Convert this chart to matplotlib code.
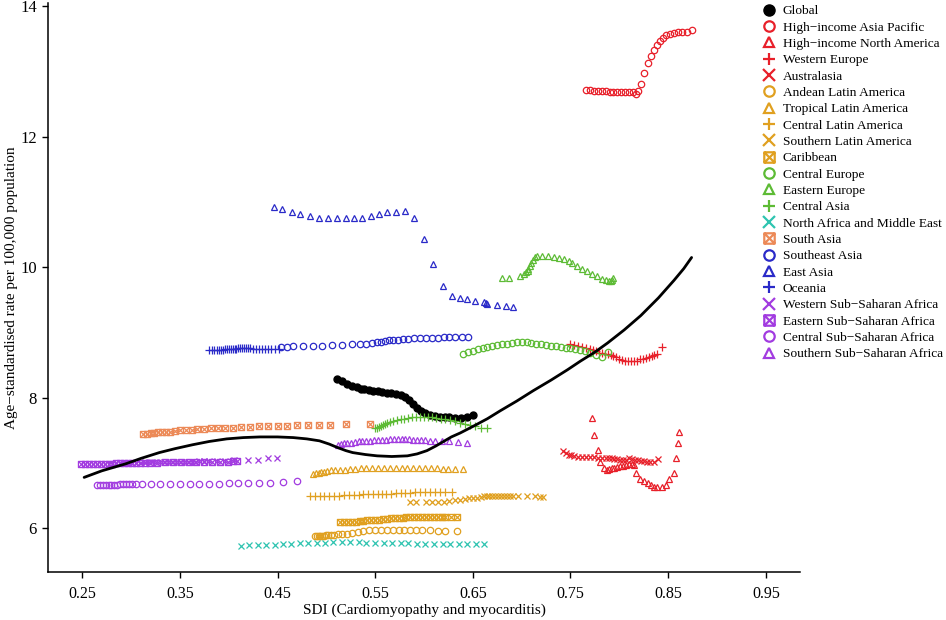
import matplotlib
matplotlib.use("Agg")
import matplotlib.pyplot as plt
from matplotlib.path import Path
from matplotlib.lines import Line2D

plt.rcParams['font.family'] = ['Liberation Serif', 'DejaVu Serif']

# ---------------- data ----------------
global_sdi = [0.511,0.516,0.521,0.526,0.531,0.535,0.539,0.544,0.548,0.553,0.557,0.562,0.566,0.571,0.576,0.581,0.585,0.589,0.593,0.597,0.601,0.606,0.611,0.616,0.621,0.626,0.632,0.638,0.644,0.650]
global_rate = [8.29,8.25,8.21,8.18,8.16,8.14,8.13,8.12,8.11,8.10,8.09,8.08,8.07,8.06,8.04,8.01,7.97,7.91,7.85,7.80,7.77,7.74,7.72,7.71,7.70,7.70,7.69,7.69,7.71,7.74]

hiap_sdi = [0.766,0.770,0.774,0.778,0.782,0.786,0.790,0.794,0.798,0.802,0.806,0.810,0.814,0.817,0.819,0.822,0.825,0.829,0.832,0.836,0.839,0.842,0.845,0.848,0.852,0.856,0.860,0.864,0.869,0.874]
hiap_rate = [12.71,12.71,12.70,12.70,12.70,12.70,12.69,12.69,12.69,12.69,12.68,12.68,12.69,12.66,12.70,12.81,12.98,13.13,13.24,13.33,13.41,13.47,13.52,13.56,13.58,13.59,13.60,13.60,13.61,13.63]

hina_sdi = [0.772,0.774,0.778,0.780,0.784,0.787,0.789,0.792,0.795,0.798,0.801,0.804,0.807,0.810,0.813,0.815,0.817,0.821,0.825,0.829,0.832,0.835,0.839,0.844,0.848,0.851,0.856,0.858,0.860,0.861]
hina_rate = [7.69,7.43,7.20,7.02,6.92,6.90,6.91,6.92,6.93,6.94,6.95,6.96,6.97,6.98,6.99,6.97,6.85,6.76,6.72,6.69,6.66,6.64,6.63,6.64,6.66,6.75,6.85,7.08,7.30,7.47]

we_sdi = [0.750,0.754,0.758,0.762,0.766,0.770,0.773,0.776,0.779,0.782,0.785,0.788,0.791,0.794,0.797,0.800,0.803,0.806,0.809,0.812,0.815,0.818,0.821,0.824,0.827,0.830,0.833,0.836,0.839,0.844]
we_rate = [8.82,8.81,8.80,8.78,8.76,8.75,8.73,8.71,8.69,8.68,8.67,8.67,8.66,8.64,8.62,8.60,8.58,8.57,8.56,8.56,8.56,8.57,8.59,8.60,8.61,8.63,8.64,8.65,8.67,8.78]

aus_sdi = [0.742,0.745,0.748,0.751,0.754,0.758,0.762,0.766,0.770,0.774,0.778,0.782,0.786,0.789,0.792,0.795,0.798,0.801,0.804,0.807,0.810,0.813,0.816,0.819,0.822,0.825,0.828,0.831,0.835,0.840]
aus_rate = [7.18,7.15,7.13,7.12,7.11,7.10,7.10,7.09,7.09,7.09,7.08,7.08,7.08,7.07,7.07,7.06,7.06,7.05,7.05,7.05,7.07,7.06,7.04,7.04,7.03,7.03,7.02,7.02,7.02,7.06]

andean_sdi = [0.488,0.490,0.492,0.494,0.496,0.498,0.500,0.502,0.505,0.508,0.512,0.516,0.521,0.526,0.532,0.538,0.544,0.550,0.556,0.562,0.568,0.574,0.580,0.586,0.592,0.598,0.606,0.614,0.622,0.634]
andean_rate = [5.88,5.88,5.88,5.88,5.88,5.88,5.89,5.89,5.89,5.90,5.91,5.91,5.92,5.93,5.95,5.96,5.97,5.97,5.97,5.97,5.97,5.97,5.97,5.97,5.97,5.97,5.97,5.96,5.96,5.96]

tropical_sdi = [0.486,0.489,0.492,0.495,0.498,0.501,0.505,0.509,0.514,0.519,0.524,0.529,0.535,0.541,0.547,0.553,0.559,0.565,0.571,0.577,0.583,0.589,0.595,0.601,0.607,0.613,0.619,0.625,0.632,0.640]
tropical_rate = [6.83,6.84,6.85,6.86,6.87,6.88,6.89,6.89,6.90,6.90,6.91,6.91,6.92,6.92,6.92,6.92,6.92,6.92,6.92,6.92,6.92,6.92,6.92,6.92,6.92,6.92,6.91,6.91,6.91,6.91]

clat_sdi = [0.483,0.488,0.493,0.498,0.503,0.508,0.513,0.518,0.523,0.528,0.533,0.538,0.543,0.548,0.553,0.557,0.561,0.566,0.571,0.576,0.581,0.586,0.591,0.596,0.601,0.606,0.611,0.616,0.622,0.629]
clat_rate = [6.49,6.49,6.49,6.50,6.50,6.50,6.50,6.51,6.51,6.51,6.51,6.52,6.52,6.52,6.53,6.53,6.53,6.53,6.54,6.54,6.54,6.54,6.55,6.55,6.55,6.55,6.55,6.55,6.55,6.55]

slat_sdi = [0.586,0.592,0.602,0.608,0.614,0.620,0.626,0.632,0.637,0.642,0.646,0.650,0.654,0.658,0.661,0.664,0.667,0.670,0.673,0.676,0.679,0.682,0.685,0.688,0.691,0.696,0.705,0.714,0.719,0.722]
slat_rate = [6.40,6.40,6.40,6.40,6.41,6.41,6.42,6.43,6.44,6.45,6.46,6.47,6.47,6.48,6.49,6.49,6.50,6.50,6.50,6.50,6.50,6.50,6.50,6.49,6.49,6.49,6.49,6.49,6.48,6.48]

carib_sdi = [0.514,0.518,0.522,0.526,0.530,0.534,0.538,0.542,0.546,0.550,0.554,0.558,0.562,0.566,0.570,0.574,0.578,0.582,0.586,0.590,0.594,0.598,0.602,0.606,0.610,0.614,0.618,0.622,0.628,0.634]
carib_rate = [6.10,6.10,6.10,6.10,6.10,6.11,6.11,6.12,6.12,6.13,6.13,6.14,6.14,6.15,6.15,6.16,6.16,6.17,6.17,6.17,6.17,6.17,6.17,6.17,6.17,6.17,6.17,6.17,6.17,6.17]

ceu_sdi = [0.640,0.645,0.650,0.655,0.660,0.665,0.670,0.675,0.680,0.685,0.690,0.695,0.700,0.705,0.710,0.715,0.720,0.725,0.730,0.735,0.740,0.745,0.750,0.755,0.760,0.765,0.770,0.776,0.782,0.788]
ceu_rate = [8.67,8.70,8.72,8.74,8.76,8.78,8.80,8.81,8.82,8.83,8.84,8.85,8.85,8.85,8.84,8.83,8.82,8.81,8.80,8.79,8.78,8.77,8.76,8.75,8.73,8.71,8.68,8.65,8.63,8.70]

eeu_sdi = [0.680,0.687,0.698,0.702,0.704,0.706,0.707,0.709,0.710,0.712,0.714,0.716,0.721,0.727,0.733,0.738,0.743,0.748,0.752,0.757,0.762,0.767,0.772,0.777,0.782,0.786,0.789,0.791,0.793,0.794]
eeu_rate = [9.83,9.83,9.86,9.89,9.92,9.95,9.98,10.02,10.06,10.11,10.15,10.17,10.18,10.18,10.16,10.14,10.12,10.09,10.06,10.02,9.98,9.94,9.90,9.86,9.82,9.80,9.79,9.79,9.80,9.83]

cas_sdi = [0.550,0.552,0.554,0.556,0.558,0.560,0.562,0.565,0.568,0.572,0.576,0.580,0.584,0.588,0.592,0.596,0.600,0.604,0.608,0.612,0.617,0.622,0.627,0.632,0.637,0.642,0.647,0.652,0.658,0.665]
cas_rate = [7.53,7.53,7.55,7.57,7.58,7.60,7.61,7.63,7.65,7.66,7.67,7.68,7.69,7.70,7.70,7.71,7.71,7.70,7.70,7.69,7.68,7.67,7.66,7.64,7.62,7.60,7.58,7.56,7.54,7.53]

name_sdi = [0.413,0.421,0.430,0.438,0.447,0.456,0.464,0.473,0.481,0.490,0.499,0.507,0.516,0.524,0.533,0.541,0.550,0.559,0.567,0.576,0.584,0.593,0.601,0.610,0.619,0.627,0.636,0.644,0.653,0.661]
name_rate = [5.73,5.74,5.74,5.75,5.75,5.76,5.76,5.77,5.77,5.78,5.78,5.79,5.79,5.79,5.79,5.78,5.78,5.78,5.77,5.77,5.77,5.76,5.76,5.76,5.76,5.76,5.76,5.76,5.76,5.76]

sas_sdi = [0.312,0.316,0.320,0.324,0.328,0.332,0.336,0.340,0.345,0.350,0.356,0.362,0.368,0.375,0.382,0.389,0.396,0.404,0.413,0.422,0.431,0.440,0.450,0.460,0.470,0.481,0.492,0.504,0.520,0.545]
sas_rate = [7.45,7.45,7.46,7.46,7.47,7.47,7.48,7.48,7.49,7.50,7.50,7.51,7.52,7.52,7.53,7.53,7.54,7.54,7.55,7.55,7.56,7.56,7.57,7.57,7.58,7.58,7.59,7.59,7.60,7.60]

sea_sdi = [0.454,0.460,0.466,0.476,0.486,0.496,0.506,0.516,0.526,0.534,0.541,0.547,0.552,0.556,0.560,0.564,0.568,0.573,0.578,0.584,0.590,0.596,0.602,0.608,0.614,0.620,0.626,0.632,0.639,0.645]
sea_rate = [8.78,8.78,8.79,8.79,8.80,8.80,8.81,8.81,8.82,8.82,8.83,8.84,8.85,8.86,8.87,8.88,8.89,8.89,8.90,8.90,8.91,8.91,8.92,8.92,8.92,8.93,8.93,8.93,8.93,8.93]

eas_sdi = [0.446,0.455,0.465,0.473,0.483,0.492,0.502,0.511,0.520,0.528,0.537,0.546,0.554,0.562,0.571,0.581,0.590,0.600,0.609,0.619,0.629,0.637,0.644,0.652,0.661,0.663,0.665,0.675,0.684,0.691]
eas_rate = [10.92,10.89,10.84,10.81,10.78,10.76,10.75,10.75,10.75,10.75,10.76,10.78,10.81,10.84,10.85,10.87,10.75,10.43,10.05,9.71,9.56,9.53,9.51,9.48,9.47,9.45,9.44,9.42,9.40,9.39]

oce_sdi = [0.380,0.383,0.385,0.388,0.390,0.392,0.394,0.396,0.398,0.400,0.402,0.404,0.406,0.408,0.410,0.412,0.414,0.416,0.418,0.420,0.422,0.425,0.428,0.431,0.434,0.437,0.440,0.443,0.447,0.452]
oce_rate = [8.73,8.73,8.73,8.73,8.73,8.73,8.73,8.74,8.74,8.74,8.74,8.75,8.75,8.75,8.76,8.76,8.76,8.76,8.76,8.76,8.76,8.75,8.75,8.75,8.75,8.74,8.74,8.74,8.74,8.75]

wssa_sdi = [0.285,0.290,0.295,0.300,0.305,0.310,0.314,0.318,0.322,0.326,0.330,0.334,0.338,0.342,0.346,0.350,0.354,0.358,0.362,0.366,0.370,0.375,0.380,0.388,0.396,0.405,0.420,0.430,0.440,0.449]
wssa_rate = [7.00,7.00,7.00,7.00,7.00,7.00,7.01,7.01,7.01,7.01,7.01,7.01,7.01,7.01,7.02,7.02,7.02,7.02,7.02,7.02,7.03,7.03,7.03,7.03,7.03,7.04,7.05,7.05,7.07,7.08]

essa_sdi = [0.249,0.253,0.257,0.261,0.265,0.269,0.273,0.277,0.281,0.285,0.289,0.293,0.297,0.301,0.305,0.309,0.314,0.319,0.327,0.335,0.343,0.351,0.359,0.367,0.375,0.383,0.391,0.399,0.404,0.409]
essa_rate = [6.99,6.99,6.99,6.99,6.99,6.99,6.99,6.99,6.99,7.00,7.00,7.00,7.00,7.00,7.00,7.00,7.00,7.00,7.00,7.01,7.01,7.01,7.01,7.01,7.02,7.02,7.02,7.02,7.03,7.03]

cssa_sdi = [0.265,0.268,0.271,0.274,0.277,0.280,0.283,0.286,0.289,0.292,0.295,0.298,0.301,0.305,0.311,0.320,0.330,0.340,0.350,0.360,0.370,0.380,0.390,0.400,0.410,0.420,0.431,0.442,0.456,0.470]
cssa_rate = [6.67,6.67,6.67,6.67,6.67,6.67,6.67,6.67,6.68,6.68,6.68,6.68,6.68,6.68,6.68,6.68,6.68,6.68,6.68,6.68,6.68,6.68,6.68,6.69,6.69,6.69,6.70,6.70,6.71,6.73]

sssa_sdi = [0.512,0.515,0.518,0.521,0.525,0.529,0.533,0.537,0.541,0.545,0.549,0.553,0.557,0.561,0.565,0.569,0.573,0.577,0.581,0.585,0.589,0.593,0.597,0.601,0.606,0.611,0.618,0.626,0.635,0.644]
sssa_rate = [7.28,7.29,7.30,7.31,7.31,7.32,7.33,7.33,7.34,7.34,7.35,7.35,7.36,7.36,7.37,7.37,7.37,7.37,7.37,7.37,7.36,7.36,7.35,7.35,7.34,7.34,7.33,7.33,7.32,7.31]

curve_sdi = [0.252,0.270,0.295,0.310,0.329,0.345,0.363,0.380,0.398,0.415,0.432,0.450,0.466,0.480,0.493,0.503,0.511,0.520,0.527,0.540,0.552,0.567,0.583,0.593,0.603,0.612,0.620,0.628,0.637,0.650,0.665,0.678,0.695,0.712,0.730,0.747,0.760,0.775,0.788,0.805,0.822,0.840,0.856,0.866,0.874]
curve_rate = [6.78,6.88,6.99,7.07,7.16,7.22,7.28,7.33,7.37,7.39,7.40,7.40,7.39,7.37,7.34,7.29,7.24,7.19,7.16,7.13,7.11,7.10,7.11,7.14,7.19,7.26,7.33,7.40,7.46,7.56,7.68,7.80,7.95,8.11,8.27,8.43,8.56,8.70,8.84,9.04,9.26,9.53,9.80,9.98,10.15]

x_ticks = [0.25, 0.35, 0.45, 0.55, 0.65, 0.75, 0.85, 0.95]
x_tick_labels = ["0.25", "0.35", "0.45", "0.55", "0.65", "0.75", "0.85", "0.95"]
y_ticks = [6, 8, 10, 12, 14]

# ---------------- styles ----------------
RED = "#E8202A"
ORANGE = "#E0A020"
GREEN = "#5DBB35"
TEAL = "#2EC4B0"
SALMON = "#EC8A58"
BLUE = "#2A2AC8"
PURPLE = "#A23CE0"

boxx = Path([(-1, -1), (1, -1), (1, 1), (-1, 1), (-1, -1), (-1, -1), (1, 1), (-1, 1), (1, -1)],
            [Path.MOVETO, Path.LINETO, Path.LINETO, Path.LINETO, Path.CLOSEPOLY,
             Path.MOVETO, Path.LINETO, Path.MOVETO, Path.LINETO])

series = [
    ("Global", global_sdi, global_rate, "black", "o", True),
    ("High\u2212income Asia Pacific", hiap_sdi, hiap_rate, RED, "o", False),
    ("High\u2212income North America", hina_sdi, hina_rate, RED, "^", False),
    ("Western Europe", we_sdi, we_rate, RED, "+", False),
    ("Australasia", aus_sdi, aus_rate, RED, "x", False),
    ("Andean Latin America", andean_sdi, andean_rate, ORANGE, "o", False),
    ("Tropical Latin America", tropical_sdi, tropical_rate, ORANGE, "^", False),
    ("Central Latin America", clat_sdi, clat_rate, ORANGE, "+", False),
    ("Southern Latin America", slat_sdi, slat_rate, ORANGE, "x", False),
    ("Caribbean", carib_sdi, carib_rate, ORANGE, boxx, False),
    ("Central Europe", ceu_sdi, ceu_rate, GREEN, "o", False),
    ("Eastern Europe", eeu_sdi, eeu_rate, GREEN, "^", False),
    ("Central Asia", cas_sdi, cas_rate, GREEN, "+", False),
    ("North Africa and Middle East", name_sdi, name_rate, TEAL, "x", False),
    ("South Asia", sas_sdi, sas_rate, SALMON, boxx, False),
    ("Southeast Asia", sea_sdi, sea_rate, BLUE, "o", False),
    ("East Asia", eas_sdi, eas_rate, BLUE, "^", False),
    ("Oceania", oce_sdi, oce_rate, BLUE, "+", False),
    ("Western Sub\u2212Saharan Africa", wssa_sdi, wssa_rate, PURPLE, "x", False),
    ("Eastern Sub\u2212Saharan Africa", essa_sdi, essa_rate, PURPLE, boxx, False),
    ("Central Sub\u2212Saharan Africa", cssa_sdi, cssa_rate, PURPLE, "o", False),
    ("Southern Sub\u2212Saharan Africa", sssa_sdi, sssa_rate, PURPLE, "^", False),
]

size_map = {"o": 4.6, "^": 5.0, "+": 6.0, "x": 5.0}

fig = plt.figure(figsize=(9.46, 6.2), dpi=100)
ax = fig.add_axes([48 / 946, 48 / 620, 752 / 946, 569 / 620])

handles = []
for name, xs, ys, col, mk, filled in series:
    ms = size_map.get(mk, 4.4) if isinstance(mk, str) else 4.4
    if filled:
        ax.plot(xs, ys, linestyle="none", marker=mk, markersize=5.0, color=col, zorder=3)
        h = Line2D([], [], linestyle="none", marker=mk, markersize=8, color=col)
    else:
        ax.plot(xs, ys, linestyle="none", marker=mk, markersize=ms, markerfacecolor="none",
                markeredgecolor=col, markeredgewidth=0.9, zorder=3)
        lms = 8.5 if mk in ("+", "x") else 7.5
        h = Line2D([], [], linestyle="none", marker=mk, markersize=lms, markerfacecolor="none",
                   markeredgecolor=col, markeredgewidth=1.6)
    handles.append((h, name))

ax.plot(curve_sdi, curve_rate, color="black", linewidth=2.0, zorder=4,
        solid_capstyle="round", solid_joinstyle="round")

ax.set_xlim(0.215, 0.985)
ax.set_ylim(5.33, 14.05)
ax.set_xticks(x_ticks)
ax.set_xticklabels(x_tick_labels)
ax.set_yticks(y_ticks)
for s in ("top", "right"):
    ax.spines[s].set_visible(False)
for s in ("left", "bottom"):
    ax.spines[s].set_linewidth(1.1)
ax.tick_params(axis="both", direction="out", length=4, width=1.0, labelsize=12, pad=4)
ax.tick_params(axis="x", labelsize=11.5, pad=6)

ax.set_xlabel("SDI (Cardiomyopathy and myocarditis)", fontsize=11)
ax.set_ylabel("Age\u2212standardised rate per 100,000 population", fontsize=11)
ax.xaxis.set_label_coords(0.5, -0.055)
ax.yaxis.set_label_coords(-0.04, 0.5)

fig.legend([h for h, _ in handles], [n for _, n in handles], loc="upper left",
           bbox_to_anchor=(762 / 946, 1 - 5 / 620), frameon=False, fontsize=9.6,
           labelspacing=0.3, handlelength=1.0, handletextpad=0.55, borderpad=0,
           borderaxespad=0)

fig.savefig("out.png", dpi=100)
